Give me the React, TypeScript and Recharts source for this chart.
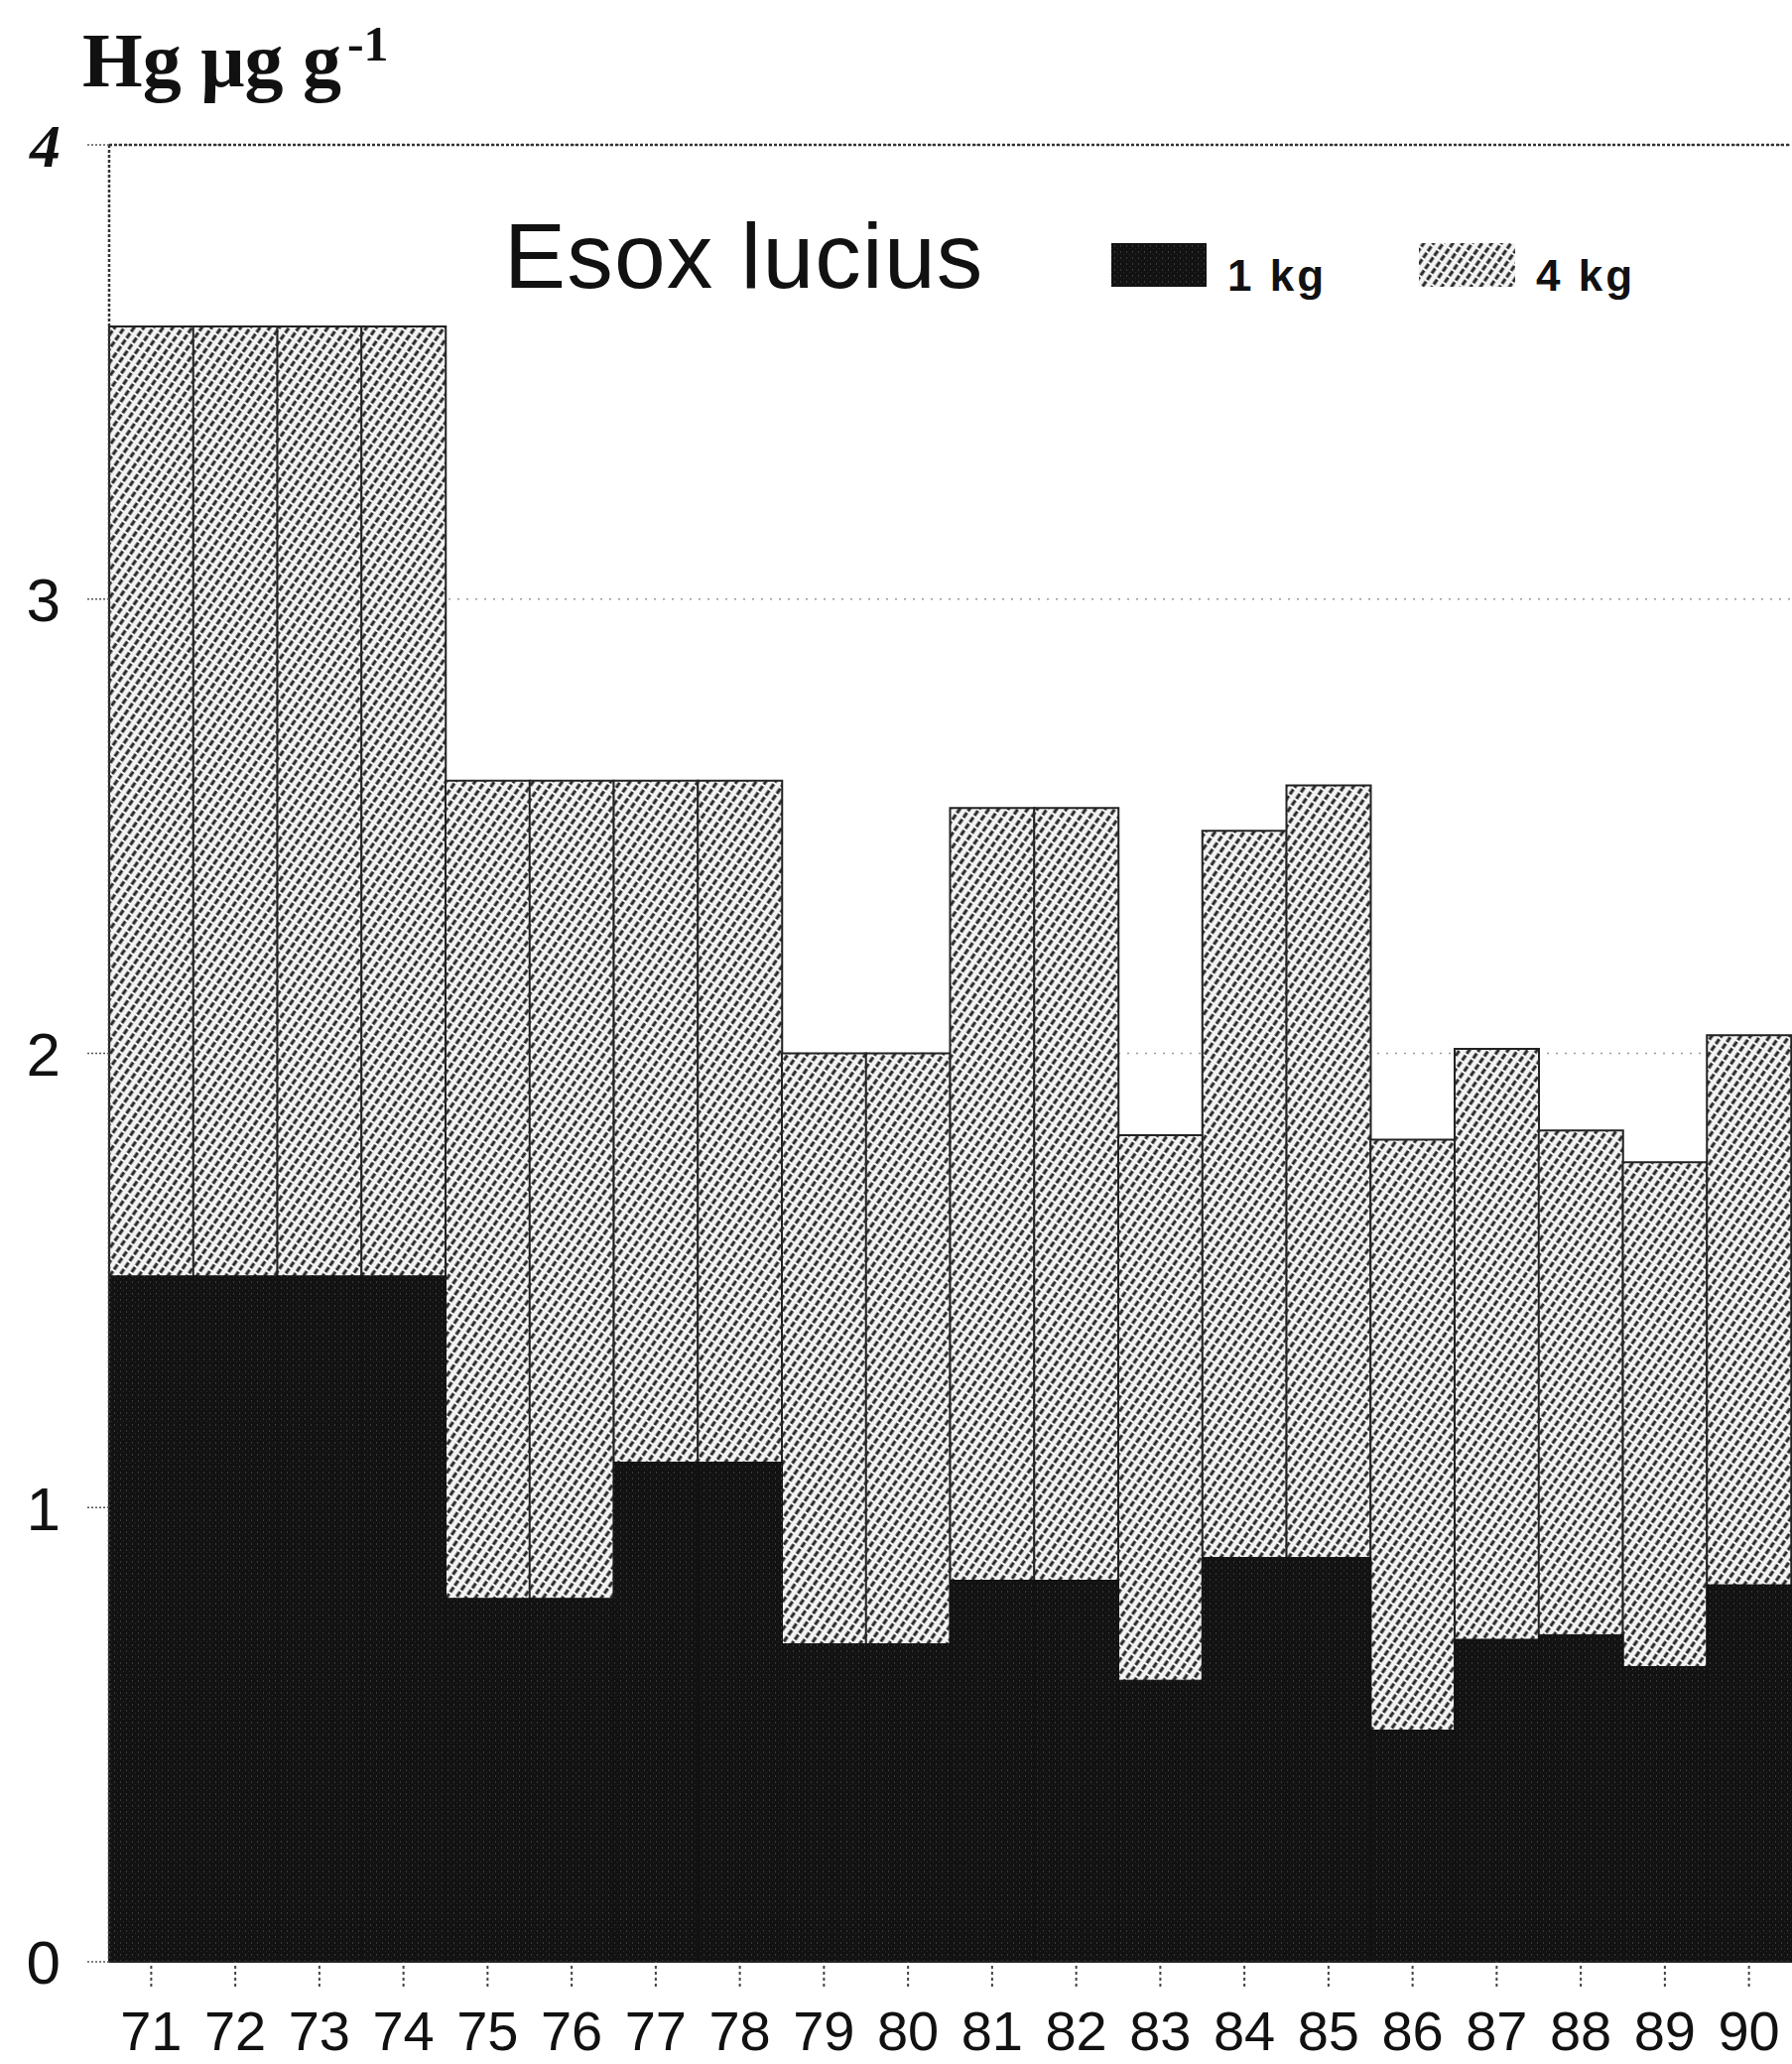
import React from 'react';
import { BarChart, Bar, XAxis, YAxis, CartesianGrid, ReferenceLine } from 'recharts';

const years = ['71', '72', '73', '74', '75', '76', '77', '78', '79', '80', '81', '82', '83', '84', '85', '86', '87', '88', '89', '90'];
const hg1kg = [1.51, 1.51, 1.51, 1.51, 0.8, 0.8, 1.1, 1.1, 0.7, 0.7, 0.84, 0.84, 0.62, 0.89, 0.89, 0.51, 0.71, 0.72, 0.65, 0.83];
const hg4kg = [3.6, 3.6, 3.6, 3.6, 2.6, 2.6, 2.6, 2.6, 2.0, 2.0, 2.54, 2.54, 1.82, 2.49, 2.59, 1.81, 2.01, 1.83, 1.76, 2.04];
const yTicks = [0, 1, 2, 3, 4];
const seriesLabels = ['1 kg', '4 kg'];
const title = 'Esox lucius';

const data = years.map((y, i) => ({ year: y, kg1: hg1kg[i], kg4: hg4kg[i] }));

const sans = '"Liberation Sans", Arial, Helvetica, sans-serif';
const serif = '"Liberation Serif", "Times New Roman", serif';

const YTick = (props: any) => {
  const { x, y, payload } = props;
  const v = payload.value;
  const isTop = v === 4;
  return (
    <text
      x={x}
      y={y}
      dy="0.36em"
      textAnchor="end"
      fontFamily={isTop ? serif : sans}
      fontStyle={isTop ? 'italic' : 'normal'}
      fontWeight={isTop ? 'bold' : 'normal'}
      fontSize={62}
      fill="#111"
    >
      {v}
    </text>
  );
};

export default function App() {
  return (
    <div style={{ position: 'absolute', left: 0, top: 0, width: 1806, height: 2080, background: '#fff', overflow: 'hidden' }}>
      <svg width={0} height={0} style={{ position: 'absolute' }}>
        <defs>
          <pattern id="hatch" patternUnits="userSpaceOnUse" width="8" height="8" patternTransform="rotate(35)">
            <rect width="8" height="8" fill="#f4f4f4" />
            <line x1="4" y1="0" x2="4" y2="8" stroke="#262626" strokeWidth="3.1" strokeDasharray="6 2" />
          </pattern>
          <pattern id="dark" patternUnits="userSpaceOnUse" width="6" height="6">
            <rect width="6" height="6" fill="#121212" />
            <rect x="1" y="1" width="1" height="2" fill="#3a3a3a" />
            <rect x="4" y="4" width="1" height="1" fill="#2e2e2e" />
          </pattern>
        </defs>
      </svg>
      <BarChart
        width={1806}
        height={2080}
        data={data}
        margin={{ top: 146, right: 1, bottom: 0, left: 0 }}
        barCategoryGap={0}
        barGap="-100%"
      >
        <CartesianGrid vertical={false} stroke="#9a9a9a" strokeDasharray="2 7" strokeWidth={1.5} />
        <XAxis
          dataKey="year"
          interval={0}
          height={103}
          tickSize={25}
          tickMargin={24}
          axisLine={{ stroke: '#222', strokeWidth: 2 }}
          tickLine={{ stroke: '#444', strokeWidth: 2, strokeDasharray: '3 3' }}
          tick={{ fontFamily: sans, fontSize: 56, fill: '#111' }}
        />
        <YAxis
          domain={[0, 4]}
          ticks={yTicks}
          width={110}
          tickSize={22}
          tickMargin={27}
          axisLine={{ stroke: '#333', strokeWidth: 2.5, strokeDasharray: '3 2' }}
          tickLine={{ stroke: '#555', strokeWidth: 1.5, strokeDasharray: '2 2' }}
          tick={<YTick />}
          interval={0}
        />
        <YAxis
          yAxisId="right"
          orientation="right"
          domain={[0, 4]}
          width={0}
          tick={false}
          tickLine={false}
          axisLine={{ stroke: '#333', strokeWidth: 2, strokeDasharray: '3 2' }}
        />
        <Bar
          dataKey="kg4"
          name={seriesLabels[1]}
          fill="url(#hatch)"
          stroke="#222"
          strokeWidth={2}
          isAnimationActive={false}
        />
        <Bar
          dataKey="kg1"
          name={seriesLabels[0]}
          fill="url(#dark)"
          stroke="#111"
          strokeWidth={1}
          isAnimationActive={false}
        />
        <ReferenceLine y={4} stroke="#333" strokeWidth={2.5} strokeDasharray="3 2" />
      </BarChart>
      <svg width={1806} height={400} style={{ position: 'absolute', left: 0, top: 0, pointerEvents: 'none' }}>
        <text x={83} y={87} fontFamily={serif} fontWeight="bold" fontSize={78} fill="#111">
          Hg μg g
          <tspan fontSize={50} dx={6} dy={-26}>-1</tspan>
        </text>
        <text x={508} y={290} fontFamily={sans} fontSize={93} letterSpacing={1.2} fill="#111">
          {title}
        </text>
        <rect x={1120} y={245} width={96} height={44} fill="url(#dark)" />
        <text x={1237} y={293} fontFamily={sans} fontWeight="bold" fontSize={44} letterSpacing={3} fill="#111">
          {seriesLabels[0]}
        </text>
        <rect x={1430} y={245} width={97} height={44} fill="url(#hatch)" />
        <text x={1548} y={293} fontFamily={sans} fontWeight="bold" fontSize={44} letterSpacing={3} fill="#111">
          {seriesLabels[1]}
        </text>
      </svg>
    </div>
  );
}
